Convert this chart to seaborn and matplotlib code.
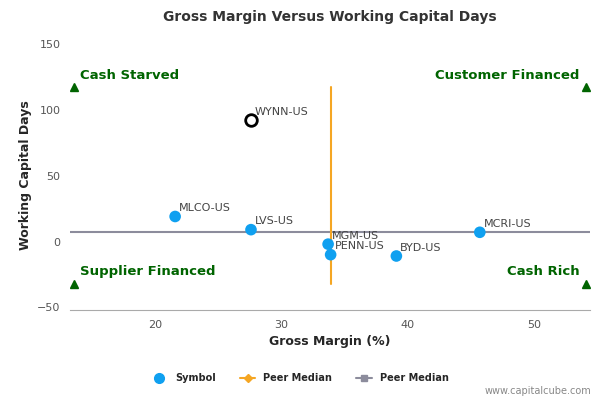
import matplotlib
matplotlib.use('Agg')
import matplotlib.pyplot as plt
from matplotlib.lines import Line2D
import seaborn as sns
import pandas as pd

symbols = ['MLCO-US', 'LVS-US', 'MGM-US', 'PENN-US', 'BYD-US', 'MCRI-US']
margin = [21.6, 27.6, 33.7, 33.9, 39.1, 45.7]
wc_days = [19, 9, -2, -10, -11, 7]
wynn = (27.6, 92)
median_x = 33.9
median_y = 7
quad_labels = ['Cash Starved', 'Customer Financed', 'Supplier Financed', 'Cash Rich']

sns.set_style('white')
plt.rcParams['font.family'] = ['DejaVu Sans']
fig, ax = plt.subplots(figsize=(6, 4), dpi=100)
fig.subplots_adjust(left=0.117, right=0.983, top=0.9, bottom=0.225)

xmin, xmax = 13.3, 54.4
ymin, ymax = -52, 153
ax.set_xlim(xmin, xmax)
ax.set_ylim(ymin, ymax)

ax.plot([xmin, xmax], [median_y, median_y], color='#8c8c9c', lw=1.5, zorder=1)
ax.plot([median_x, median_x], [-32, 117], color='#f5a623', lw=1.5, zorder=1)

df = pd.DataFrame({'x': margin, 'y': wc_days, 'sym': symbols})
sns.scatterplot(data=df, x='x', y='y', color='#0fa0f0', s=70, edgecolor='none', ax=ax, zorder=3)
ax.scatter([wynn[0]], [wynn[1]], s=70, facecolor='white', edgecolor='black', linewidth=2, zorder=3)
for sx, sy, name in zip(margin + [wynn[0]], wc_days + [wynn[1]], symbols + ['WYNN-US']):
    ax.text(sx + 0.3, sy + 4, name, fontsize=8, color='#444444')

corners = [(13.6, 117, 'left'), (54.1, 117, 'right'), (13.6, -32, 'left'), (54.1, -32, 'right')]
for (cx, cy, ha), lab in zip(corners, quad_labels):
    ax.plot(cx, cy, marker='^', color='#006400', ms=6, zorder=4)
    tx = cx + 0.5 if ha == 'left' else cx - 0.5
    ax.text(tx, cy + 9, lab, ha=ha, va='center', fontsize=9.5, fontweight='bold', color='#006400')

ax.set_xticks([20, 30, 40, 50])
ax.set_yticks([-50, 0, 50, 100, 150])
ax.tick_params(labelsize=8, colors='#555555')
for s in ['top', 'right', 'left']:
    ax.spines[s].set_visible(False)
ax.spines['bottom'].set_color('#aaaaaa')
ax.set_xlabel('Gross Margin (%)', fontsize=9, fontweight='bold')
ax.set_ylabel('Working Capital Days', fontsize=9, fontweight='bold')
ax.set_title('Gross Margin Versus Working Capital Days', fontsize=10, fontweight='bold', color='#333333', pad=14)

handles = [
    Line2D([], [], marker='o', color='#0fa0f0', ls='none', ms=7),
    Line2D([], [], marker='D', color='#f5a623', ms=4, lw=1.5),
    Line2D([], [], marker='s', color='#8c8c9c', ms=5, lw=1.5),
]
fig.legend(handles, ['Symbol', 'Peer Median', 'Peer Median'], loc='lower center',
           bbox_to_anchor=(0.5, 0.02), ncol=3, frameon=False,
           prop={'size': 7, 'weight': 'bold'}, handlelength=1.6, columnspacing=2.5)
fig.text(0.985, 0.01, 'www.capitalcube.com', ha='right', va='bottom', fontsize=7, color='#888888')

fig.savefig('out.png')
